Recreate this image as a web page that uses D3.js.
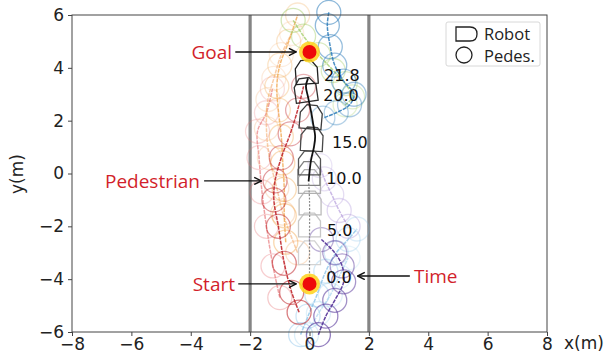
<!DOCTYPE html>
<html>
<head>
<meta charset="utf-8">
<script src="https://cdn.jsdelivr.net/npm/d3@7"></script>
<style>
  body { margin: 0; background: #fff; }
  svg { display: block; font-family: "DejaVu Sans", sans-serif; }
</style>
</head>
<body>
<svg id="chart" width="609" height="355"></svg>
<script>
// axis ticks (m)
const xTicks = [-8, -6, -4, -2, 0, 2, 4, 6, 8];
const yTicks = [-6, -4, -2, 0, 2, 4, 6];
const wallX = [-2, 2];

// goal / start positions
const goal = [0, 4.6];
const start = [0, -4.18];

// robot footprints, earliest first
const robotX = [0.0, 0.0, 0.02, 0.0, -0.02, 0.0, 0.08, 0.05, -0.13, -0.1];
const robotY = [-3.0, -1.95, -1.12, -0.3, 0.0, 0.4, 1.3, 2.14, 3.16, 3.84];
const robotHeading = [0, 0, 0, 0, 0, 0, 3, 5, -8, -4];

// robot trajectory
const robotPathLower = [[0, -3.9], [0, -2.5], [0, -1.0], [-0.03, -0.3]];
const robotPathUpper = [[-0.03, -0.3], [0.05, 0.5], [0.15, 1.0], [0.19, 1.4], [0.12, 1.9],
  [0.06, 2.3], [-0.05, 2.9], [-0.12, 3.3], [-0.05, 3.6]];

// time stamps along robot path
const timeLabels = ["0.0", "5.0", "10.0", "15.0", "20.0", "21.8"];
const timeX = [0.56, 0.59, 0.56, 0.76, 0.46, 0.49];
const timeY = [-3.92, -2.14, -0.17, 1.19, 2.97, 3.73];

// pedestrian tracks (m)
const pedRed = [[-0.35, -5.25], [-0.6, -4.5], [-0.85, -3.4], [-1.05, -2.0], [-1.2, -1.0],
  [-1.16, -0.28], [-0.95, 0.6], [-0.65, 1.5], [-0.4, 2.4], [-0.2, 3.3]];
const pedPink = [[-1.0, -4.7], [-1.23, -3.5], [-1.45, -2.0], [-1.6, -0.7], [-1.7, 0.6],
  [-1.75, 1.6], [-1.45, 2.3], [-1.25, 3.2]];
const pedOrange = [[-0.8, -2.6], [-0.85, -1.6], [-0.85, -0.6], [-0.9, 0.4], [-0.95, 1.4],
  [-1.05, 2.4], [-1.1, 3.3], [-1.0, 4.1], [-0.7, 5.0], [-0.4, 6.0]];
const pedPeach = [[-0.4, -3.0], [-0.9, -1.5], [-1.1, -0.55], [-1.35, 0.6], [-1.45, 1.7],
  [-1.4, 2.8], [-1.2, 3.6], [-0.95, 4.5], [-0.6, 5.3]];
const pedGreen = [[-0.55, 5.8], [-0.2, 5.2], [0.3, 4.5], [0.8, 3.9], [1.2, 3.4],
  [1.45, 2.9], [1.2, 2.6]];
const pedBlue = [[0.65, 6.1], [0.6, 5.6], [0.7, 4.8], [0.85, 4.1], [1.15, 3.5],
  [1.5, 3.0], [1.35, 2.6], [0.9, 2.3], [0.45, 2.1]];
const pedPurple = [[0.3, -6.1], [0.55, -5.4], [0.85, -4.8], [1.15, -4.1], [1.1, -3.5],
  [0.85, -3.0], [0.4, -2.5]];
const pedLavender = [[1.3, -2.0], [1.0, -1.4], [0.75, -0.8], [0.5, -0.2], [0.35, 0.3]];
const pedLightBlue = [[-0.3, -6.1], [-0.05, -5.4], [0.25, -4.6], [0.55, -3.7], [0.9, -3.0],
  [1.3, -2.5], [1.6, -2.1]];
const pedCyan = [[-0.1, -6.1], [0.3, -5.3], [0.7, -4.6], [1.0, -3.9], [1.3, -3.2]];

// annotations: label, text anchor x, y, arrow from, arrow to
const annLabels = ["Goal", "Start", "Pedestrian", "Time"];
const annTextX = [-2.61, -2.51, -3.69, 3.52];
const annY = [4.6, -4.18, -0.28, -3.88];
const annFrom = [-2.5, -2.4, -3.55, 3.38];
const annTo = [-0.45, -0.45, -1.62, 1.62];

const legendLabels = ["Robot", "Pedes."];

// ---- layout ----
const margin = {top: 15, left: 72},
      width = 475, height = 317;

const svg = d3.select("#chart");
const g = svg.append("g").attr("transform", "translate(" + margin.left + "," + margin.top + ")");

const x = d3.scaleLinear().domain([-8, 8]).range([0, width]);
const y = d3.scaleLinear().domain([-6, 6]).range([height, 0]);
const fmt = d => d < 0 ? "\u2212" + Math.abs(d) : "" + d;

// walls
g.selectAll("line.wall").data(wallX).enter().append("line")
  .attr("x1", d => x(d)).attr("x2", d => x(d))
  .attr("y1", y(-6)).attr("y2", y(6))
  .attr("stroke", "#858585").attr("stroke-width", 3.2);

// pedestrians
const peds = [
  {pts: pedPink, color: "#e8777a", op: 0.38},
  {pts: pedPeach, color: "#f5b884", op: 0.4},
  {pts: pedOrange, color: "#f0a040", op: 0.42},
  {pts: pedGreen, color: "#a8d070", op: 0.5},
  {pts: pedLightBlue, color: "#7fbde6", op: 0.42},
  {pts: pedCyan, color: "#a9d6ef", op: 0.4},
  {pts: pedLavender, color: "#b9a3de", op: 0.45},
  {pts: pedBlue, color: "#2b7bba", op: 0.55},
  {pts: pedPurple, color: "#5b3a9c", op: 0.65},
  {pts: pedRed, color: "#c0282d", op: 0.6}
];

const line = d3.line().x(d => x(d[0])).y(d => y(d[1])).curve(d3.curveCatmullRom);

peds.forEach(p => {
  const n = p.pts.length;
  g.append("g").selectAll("circle").data(p.pts).enter().append("circle")
    .attr("cx", d => x(d[0])).attr("cy", d => y(d[1])).attr("r", 12)
    .attr("fill", "none").attr("stroke", p.color).attr("stroke-width", 1.3)
    .attr("stroke-opacity", (d, i) => p.op * (0.55 + 0.45 * (1 - i / n)));
  g.append("path").datum(p.pts)
    .attr("d", line).attr("fill", "none")
    .attr("stroke", p.color).attr("stroke-width", 1.5)
    .attr("stroke-dasharray", "4,1").attr("stroke-opacity", Math.min(1, p.op + 0.3));
});

// robot footprints
const robotShape = [[-0.37, -0.45], [0.37, -0.45], [0.37, 0.15], [0.17, 0.45], [-0.17, 0.45], [-0.37, 0.15]];
const shade = d3.scaleLinear().domain([0, 3, 5, 9]).range(["#d2d2d2", "#b0b0b0", "#555", "#222"]);
const pxPerM = x(1) - x(0), pyPerM = y(0) - y(1);
g.selectAll("path.robot").data(robotX).enter().append("path")
  .attr("class", "robot")
  .attr("transform", (d, i) => "translate(" + x(d) + "," + y(robotY[i]) + ") rotate(" + robotHeading[i] + ")")
  .attr("d", "M" + robotShape.map(p => [p[0] * pxPerM, -p[1] * pyPerM].join(",")).join("L") + "Z")
  .attr("fill", "none")
  .attr("stroke", (d, i) => shade(i))
  .attr("stroke-width", 1.3);

// robot path
g.append("path").datum(robotPathLower).attr("d", line)
  .attr("fill", "none").attr("stroke", "#888").attr("stroke-width", 1.2).attr("stroke-dasharray", "2,1.5");
g.append("path").datum(robotPathUpper).attr("d", line)
  .attr("fill", "none").attr("stroke", "#111").attr("stroke-width", 1.8);

// goal / start markers
[goal, start].forEach(p => {
  g.append("circle").attr("cx", x(p[0])).attr("cy", y(p[1])).attr("r", 10.5)
    .attr("fill", "#ffd21a").attr("opacity", 0.85);
  g.append("circle").attr("cx", x(p[0])).attr("cy", y(p[1])).attr("r", 7)
    .attr("fill", "#ee0a0a");
});

// time labels
g.selectAll("text.time").data(timeLabels).enter().append("text")
  .attr("x", (d, i) => x(timeX[i])).attr("y", (d, i) => y(timeY[i]))
  .attr("dy", "0.36em").attr("font-size", 16).attr("fill", "#111")
  .text(d => d);

// annotations
svg.append("defs").append("marker")
  .attr("id", "arr").attr("viewBox", "0 0 10 10").attr("refX", 9).attr("refY", 5)
  .attr("markerWidth", 9).attr("markerHeight", 9).attr("orient", "auto")
  .attr("markerUnits", "userSpaceOnUse")
  .append("path").attr("d", "M1,1 L9,5 L1,9").attr("fill", "none")
  .attr("stroke", "#111").attr("stroke-width", 1.6);

annLabels.forEach((t, i) => {
  g.append("line")
    .attr("x1", x(annFrom[i])).attr("x2", x(annTo[i]))
    .attr("y1", y(annY[i])).attr("y2", y(annY[i]))
    .attr("stroke", "#111").attr("stroke-width", 1.3)
    .attr("marker-end", "url(#arr)");
  g.append("text")
    .attr("x", x(annTextX[i])).attr("y", y(annY[i])).attr("dy", "0.36em")
    .attr("text-anchor", t === "Time" ? "start" : "end")
    .attr("font-family", "'Open Sans', sans-serif")
    .attr("font-size", 19).attr("fill", "#d21f2b")
    .text(t);
});

// frame
g.append("rect").attr("width", width).attr("height", height)
  .attr("fill", "none").attr("stroke", "#444").attr("stroke-width", 1);

// axes
const xAxis = g.append("g").attr("transform", "translate(0," + height + ")")
  .call(d3.axisBottom(x).tickValues(xTicks).tickFormat(fmt).tickSize(4).tickPadding(2));
const yAxis = g.append("g")
  .call(d3.axisLeft(y).tickValues(yTicks).tickFormat(fmt).tickSize(4).tickPadding(4));
[xAxis, yAxis].forEach(a => {
  a.select(".domain").remove();
  a.selectAll("line").attr("stroke", "#444");
  a.selectAll("text").attr("font-size", 17).attr("fill", "#222").attr("font-family", "'DejaVu Sans', sans-serif");
});

svg.append("text").attr("x", 584).attr("y", 343).attr("dy", "0.36em")
  .attr("text-anchor", "middle").attr("font-size", 17).attr("fill", "#222").text("x(m)");
svg.append("text").attr("transform", "translate(17,174) rotate(-90)").attr("dy", "0.36em")
  .attr("text-anchor", "middle").attr("font-size", 17).attr("fill", "#222").text("y(m)");

// legend
const lg = svg.append("g").attr("transform", "translate(446,22)");
lg.append("rect").attr("width", 94).attr("height", 44)
  .attr("fill", "#fff").attr("stroke", "#d8d8d8").attr("rx", 2);
lg.append("path").attr("d", "M10,5 L24,5 Q31,5 31,12 Q31,19 24,19 L10,19 Z")
  .attr("fill", "none").attr("stroke", "#222").attr("stroke-width", 1.3);
lg.append("circle").attr("cx", 18).attr("cy", 33).attr("r", 8)
  .attr("fill", "none").attr("stroke", "#222").attr("stroke-width", 1.3);
lg.selectAll("text").data(legendLabels).enter().append("text")
  .attr("x", 38).attr("y", (d, i) => 12 + i * 22).attr("dy", "0.36em")
  .attr("font-family", "'Open Sans', sans-serif").attr("font-size", 16.5).attr("fill", "#222")
  .text(d => d);
</script>
</body>
</html>
